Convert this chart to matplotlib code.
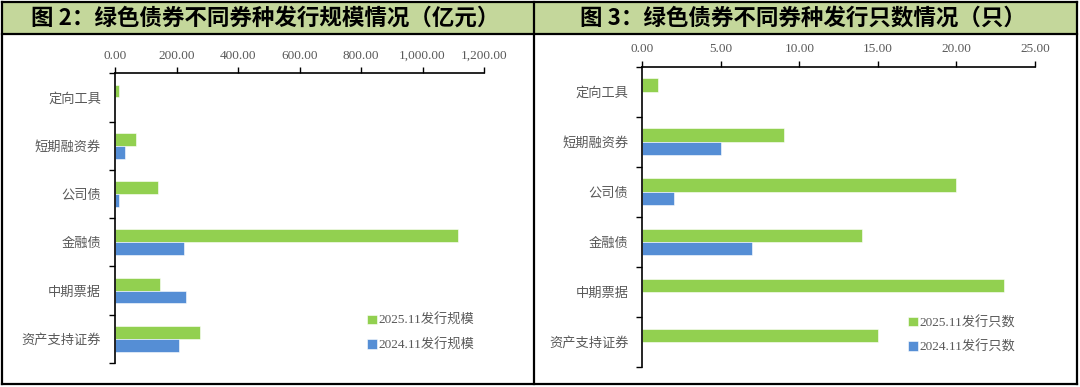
import matplotlib
matplotlib.use('Agg')
import matplotlib.pyplot as plt
import matplotlib.patches as mpatches
from matplotlib.lines import Line2D
import numpy as np

plt.rcParams['font.family'] = ['Liberation Serif', 'Noto Sans CJK SC', 'DejaVu Sans']

categories = ['定向工具', '短期融资券', '公司债', '金融债', '中期票据', '资产支持证券']

# 图2 发行规模（亿元）
scale_2025 = [14, 67, 141, 1117, 147, 276]
scale_2024 = [0, 34, 12, 226, 231, 208]
scale_ticks = [0, 200, 400, 600, 800, 1000, 1200]

# 图3 发行只数（只）
count_2025 = [1, 9, 20, 14, 23, 15]
count_2024 = [0, 5, 2, 7, 0, 0]
count_ticks = [0, 5, 10, 15, 20, 25]

title_left = '图 2：绿色债券不同券种发行规模情况（亿元）'
title_right = '图 3：绿色债券不同券种发行只数情况（只）'
labels_left = ['2025.11发行规模', '2024.11发行规模']
labels_right = ['2025.11发行只数', '2024.11发行只数']

green = '#92d050'
blue = '#558ed5'
header = '#c4d79b'
gray = '#595959'

W, H = 1080, 387
fig = plt.figure(figsize=(W / 100, H / 100), dpi=100)

def fx(px):
    return px / W

def fy(py):
    return 1 - py / H

# header bands and frame
fig.add_artist(mpatches.Rectangle((fx(1.5), fy(33.5)), fx(1077 - 1.5), fy(1.5) - fy(33.5),
                                  transform=fig.transFigure, facecolor=header, edgecolor='none', zorder=0))
lw = 1.6
for x0, y0, x1, y1 in [(1.5, 1.5, 1077, 1.5), (1.5, 33.5, 1077, 33.5), (1.5, 384, 1077, 384),
                       (1.5, 1.5, 1.5, 384), (534, 1.5, 534, 384), (1077, 1.5, 1077, 384)]:
    fig.add_artist(Line2D([fx(x0), fx(x1)], [fy(y0), fy(y1)], transform=fig.transFigure,
                          color='black', lw=lw, solid_capstyle='projecting'))

fig.text(fx(265), fy(18), title_left, ha='center', va='center', fontsize=16.2,
         fontweight='bold', family=['Noto Sans CJK SC', 'DejaVu Sans'])
fig.text(fx(803), fy(18), title_right, ha='center', va='center', fontsize=16.2,
         fontweight='bold', family=['Noto Sans CJK SC', 'DejaVu Sans'])


def draw(rect, v25, v24, ticks, labels, leg_xy):
    ax = fig.add_axes(rect)
    y = np.arange(len(categories))
    h = 0.265
    b1 = ax.barh(y - h / 2, v25, height=h, color=green, edgecolor='white', linewidth=0.4)
    b2 = ax.barh(y + h / 2, v24, height=h, color=blue, edgecolor='white', linewidth=0.4)
    ax.set_ylim(len(categories) - 0.5, -0.5)
    ax.set_xlim(ticks[0], ticks[-1])
    ax.xaxis.tick_top()
    ax.set_xticks(ticks)
    ax.set_xticklabels(['{:,.2f}'.format(t) for t in ticks], color=gray, fontsize=9.5)
    ax.tick_params(axis='x', direction='out', length=4, width=1, pad=4)
    ax.set_yticks(np.arange(len(categories) + 1) - 0.5)
    ax.set_yticklabels([])
    ax.tick_params(axis='y', which='major', direction='out', length=4, width=1)
    ax.set_yticks(y, minor=True)
    ax.set_yticklabels(categories, minor=True, color=gray, fontsize=9.5,
                       family=['Noto Sans CJK SC', 'DejaVu Sans'])
    ax.tick_params(axis='y', which='minor', length=0, pad=10)
    for s in ['right', 'bottom']:
        ax.spines[s].set_visible(False)
    for s in ['top', 'left']:
        ax.spines[s].set_linewidth(1.2)
    ax.legend([b1, b2], labels, loc='upper left', bbox_to_anchor=leg_xy,
              bbox_transform=fig.transFigure, frameon=False,
              handlelength=0.75, handleheight=0.75, handletextpad=0.12,
              labelspacing=0.85, borderpad=0, borderaxespad=0,
              prop={'family': ['Liberation Serif', 'Noto Sans CJK SC'], 'size': 9.5},
              labelcolor=gray)
    return ax


draw([fx(115), fy(363), fx(484 - 115), fy(73.3) - fy(363)], scale_2025, scale_2024,
     scale_ticks, labels_left, (fx(367), fy(314)))
draw([fx(642.3), fy(367), fx(1035 - 642.3), fy(66.5) - fy(367)], count_2025, count_2024,
     count_ticks, labels_right, (fx(908), fy(316)))

fig.savefig('out.png', dpi=100)
